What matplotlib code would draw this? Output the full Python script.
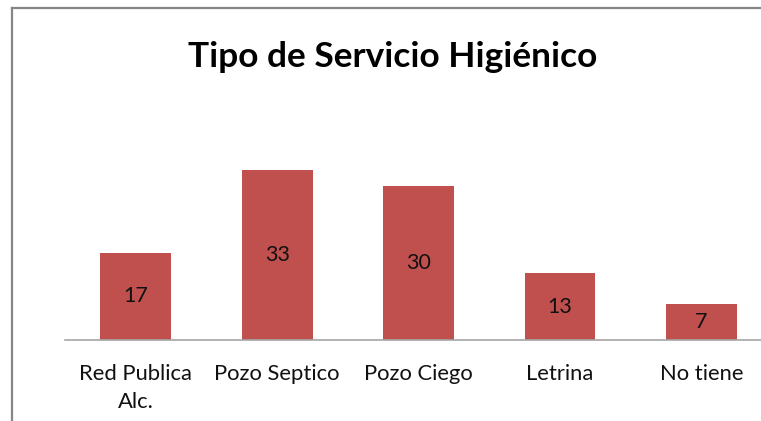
import matplotlib.pyplot as plt
from matplotlib.lines import Line2D

categories = ['Red Publica\nAlc.', 'Pozo Septico', 'Pozo Ciego', 'Letrina', 'No tiene']
values = [17, 33, 30, 13, 7]

plt.rcParams['font.family'] = ['Lato', 'DejaVu Sans']

fig = plt.figure(figsize=(7.61, 4.21), dpi=100)
ax = fig.add_axes([65 / 761, 81 / 421, 696 / 761, 180 / 421])

x = range(len(values))
bars = ax.bar(x, values, width=0.5, color='#C0504D')
for b, v in zip(bars, values):
    ax.text(b.get_x() + b.get_width() / 2, v / 2, str(v), ha='center', va='center',
            fontsize=15.5, color='#111111')

ax.set_xlim(-0.5, 4.42)
ax.set_ylim(0, 35)
ax.set_xticks(list(x))
ax.set_xticklabels(categories, fontsize=15.8, color='#111111', linespacing=1.55)
ax.tick_params(axis='x', length=0, pad=17)
ax.set_yticks([])
for s in ['top', 'right', 'left']:
    ax.spines[s].set_visible(False)
ax.spines['bottom'].set_color('#A6A6A6')
ax.spines['bottom'].set_linewidth(1.2)

fig.text(393 / 761, 1 - 57 / 421, 'Tipo de Servicio Higiénico', ha='center', va='center',
         fontsize=25.4, fontweight='bold', color='black')

# outer chart frame (only top and left edges visible)
fig.add_artist(Line2D([12 / 761, 12 / 761], [0, 1 - 8 / 421], transform=fig.transFigure,
                      color='#868686', lw=1.6))
fig.add_artist(Line2D([12 / 761, 1], [1 - 8 / 421, 1 - 8 / 421], transform=fig.transFigure,
                      color='#868686', lw=1.6))

fig.savefig('out.png', dpi=100)
